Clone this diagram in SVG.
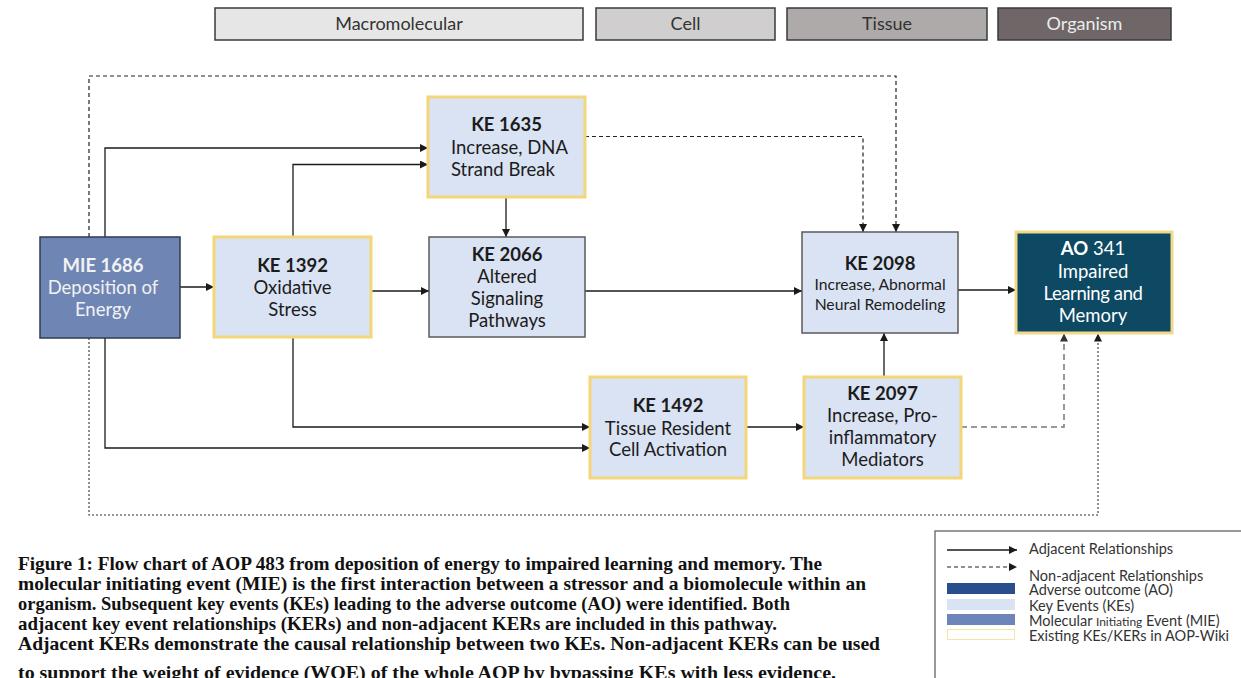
<svg xmlns="http://www.w3.org/2000/svg" width="1241" height="678" viewBox="0 0 1241 678">
  <defs>
    <marker id="arr" viewBox="0 0 10 10" refX="10" refY="5" markerWidth="8" markerHeight="8" markerUnits="userSpaceOnUse" orient="auto">
      <path d="M0,0 L10,5 L0,10 z" fill="#1a1a1a"/>
    </marker>
    <marker id="arrg" viewBox="0 0 10 10" refX="10" refY="5" markerWidth="8" markerHeight="8" markerUnits="userSpaceOnUse" orient="auto">
      <path d="M0,0 L10,5 L0,10 z" fill="#333"/>
    </marker>
  </defs>
  <style>
    text { font-family: Lato, "Open Sans", "Liberation Sans", sans-serif; }
    .lvl { stroke: #3a3a3a; stroke-width: 1.5; }
    .lvlt { font-size: 18px; fill: #333; text-anchor: middle; }
    .ke { fill: #dae3f3; }
    .yel { stroke: #f3d57a; stroke-width: 3; }
    .gry { stroke: #5a5a5a; stroke-width: 1.5; }
    .t { font-size: 18.5px; fill: #1c1c1c; text-anchor: middle; }
    .tb { font-weight: bold; }
    .ts { font-size: 15.7px; }
    .w { fill: #f2f2f2; }
    .solid { fill: none; stroke: #1a1a1a; stroke-width: 1.3; marker-end: url(#arr); }
    .dash { fill: none; stroke: #222; stroke-width: 1.2; stroke-dasharray: 4 3; marker-end: url(#arr); }
    .dot { fill: none; stroke: #333; stroke-width: 1.1; stroke-dasharray: 2 2; marker-end: url(#arr); }
    .gdash { fill: none; stroke: #777; stroke-width: 1.5; stroke-dasharray: 6 4; marker-end: url(#arrg); }
    .cap { font-family: "Liberation Serif", "Times New Roman", serif; font-weight: bold; font-size: 19px; fill: #111; }
    .leg { font-size: 14.5px; fill: #333; }
  </style>

  <rect width="1241" height="678" fill="#ffffff"/>

  <!-- biological level bands -->
  <g id="levels">
    <rect class="lvl" x="215" y="8" width="368" height="32" fill="#e7e6e6"/>
    <text class="lvlt" x="399" y="30">Macromolecular</text>
    <rect class="lvl" x="596" y="8" width="179" height="32" fill="#d0cece"/>
    <text class="lvlt" x="685.5" y="30">Cell</text>
    <rect class="lvl" x="787" y="8" width="200" height="32" fill="#aeaaaa"/>
    <text class="lvlt" x="887" y="30">Tissue</text>
    <rect class="lvl" x="998" y="8" width="173" height="32" fill="#6f6767"/>
    <text class="lvlt" x="1084.5" y="30" style="fill:#ececec">Organism</text>
  </g>

  <!-- connectors -->
  <g id="connectors">
    <path class="solid" d="M180,287 H214"/>
    <path class="solid" d="M371,291 H429"/>
    <path class="solid" d="M585,291 H802"/>
    <path class="solid" d="M957,290 H1016"/>
    <path class="solid" d="M105,237 V148 H428"/>
    <path class="solid" d="M293,237 V164.5 H428"/>
    <path class="solid" d="M506,197 V237"/>
    <path class="solid" d="M293,337 V427 H590"/>
    <path class="solid" d="M105,338 V448 H590"/>
    <path class="solid" d="M746,427 H804"/>
    <path class="solid" d="M884,377 V333"/>
    <path class="dash" d="M585,136.5 H863 V232"/>
    <path class="dash" d="M89,237 V76 H896 V232"/>
    <path class="dot" d="M89,338 V515 H1098 V333.5"/>
    <path class="gdash" d="M961,427 H1064 V333.5"/>
  </g>

  <g id="mie1686">
    <rect x="40" y="237" width="140" height="101" fill="#6f86b5" stroke="#2f3b52" stroke-width="1.5"/>
    <text class="t w" x="103" y="272"><tspan class="tb w">MIE 1686</tspan><tspan class="w" x="103" y="294">Deposition of</tspan><tspan class="w" x="103" y="316">Energy</tspan></text>
  </g>

  <g id="ke1392">
    <rect class="ke yel" x="214" y="237" width="157" height="100"/>
    <text class="t" x="292.5" y="272"><tspan class="tb">KE 1392</tspan><tspan x="292.5" y="294">Oxidative</tspan><tspan x="292.5" y="316">Stress</tspan></text>
  </g>

  <g id="ke1635">
    <rect class="ke yel" x="428" y="97" width="157" height="100"/>
    <text class="t" x="506.5" y="131"><tspan class="tb">KE 1635</tspan></text>
    <text class="t" x="451" y="154" style="text-anchor:start">Increase, DNA<tspan x="451" y="176">Strand Break</tspan></text>
  </g>

  <g id="ke2066">
    <rect class="ke gry" x="429" y="237" width="156" height="100"/>
    <text class="t" x="507" y="261"><tspan class="tb">KE 2066</tspan><tspan x="507" y="283">Altered</tspan><tspan x="507" y="305">Signaling</tspan><tspan x="507" y="327">Pathways</tspan></text>
  </g>

  <g id="ke2098">
    <rect class="ke gry" x="802" y="232" width="156" height="101"/>
    <text class="t" x="880" y="270"><tspan class="tb">KE 2098</tspan></text>
    <text class="t ts" x="880" y="290">Increase, Abnormal<tspan x="880" y="310">Neural Remodeling</tspan></text>
  </g>

  <g id="ao341">
    <rect x="1016" y="232" width="156" height="101" fill="#0d4963" stroke="#f0d98a" stroke-width="3"/>
    <text class="t" x="1093" y="255" style="fill:#ffffff"><tspan class="tb">AO</tspan> 341<tspan x="1093" y="278">Impaired</tspan><tspan x="1093" y="300" letter-spacing="-0.4">Learning and</tspan><tspan x="1093" y="322">Memory</tspan></text>
  </g>

  <g id="ke1492">
    <rect class="ke yel" x="590" y="377" width="156" height="101"/>
    <text class="t" x="668" y="412"><tspan class="tb">KE 1492</tspan><tspan x="668" y="435">Tissue Resident</tspan><tspan x="668" y="456">Cell Activation</tspan></text>
  </g>

  <g id="ke2097">
    <rect class="ke yel" x="804" y="377" width="157" height="101"/>
    <text class="t" x="882.5" y="400"><tspan class="tb">KE 2097</tspan><tspan x="882.5" y="422">Increase, Pro-</tspan><tspan x="882.5" y="444">inflammatory</tspan><tspan x="882.5" y="466">Mediators</tspan></text>
  </g>

  <!-- figure caption -->
  <g id="caption">
    <text class="cap" x="18" y="570" textLength="804" lengthAdjust="spacingAndGlyphs">Figure 1: Flow chart of AOP 483 from deposition of energy to impaired learning and memory. The</text>
    <text class="cap" x="18" y="590" textLength="848" lengthAdjust="spacingAndGlyphs">molecular initiating event (MIE) is the first interaction between a stressor and a biomolecule within an</text>
    <text class="cap" x="18" y="610" textLength="772" lengthAdjust="spacingAndGlyphs">organism. Subsequent key events (KEs) leading to the adverse outcome (AO) were identified. Both</text>
    <text class="cap" x="18" y="630" textLength="759" lengthAdjust="spacingAndGlyphs">adjacent key event relationships (KERs) and non-adjacent KERs are included in this pathway.</text>
    <text class="cap" x="18" y="650" textLength="862" lengthAdjust="spacingAndGlyphs">Adjacent KERs demonstrate the causal relationship between two KEs. Non-adjacent KERs can be used</text>
    <text class="cap" x="18" y="679" textLength="818" lengthAdjust="spacingAndGlyphs">to support the weight of evidence (WOE) of the whole AOP by bypassing KEs with less evidence.</text>
  </g>

  <!-- legend -->
  <g id="legend">
    <rect x="935" y="531" width="320" height="160" fill="#ffffff" stroke="#555" stroke-width="1.2"/>
    <path class="solid" d="M947,550 H1017"/>
    <text class="leg" x="1029" y="554">Adjacent Relationships</text>
    <path class="dash" d="M947,567 H1017"/>
    <text class="leg" x="1029" y="581">Non-adjacent Relationships</text>
    <rect x="947" y="583" width="68" height="11" fill="#284e8e"/>
    <text class="leg" x="1029" y="595">Adverse outcome (AO)</text>
    <rect x="947" y="599" width="68" height="11" fill="#dae3f3"/>
    <text class="leg" x="1029" y="611">Key Events (KEs)</text>
    <rect x="947" y="614" width="68" height="11" fill="#6d85bb"/>
    <text class="leg" x="1029" y="626">Molecular <tspan style="font-size:12px">Initiating</tspan> Event (MIE)</text>
    <rect x="947.5" y="629.5" width="67" height="10" fill="#ffffff" stroke="#f3e5a8" stroke-width="1"/>
    <text class="leg" x="1029" y="641">Existing KEs/KERs in AOP-Wiki</text>
  </g>
</svg>
